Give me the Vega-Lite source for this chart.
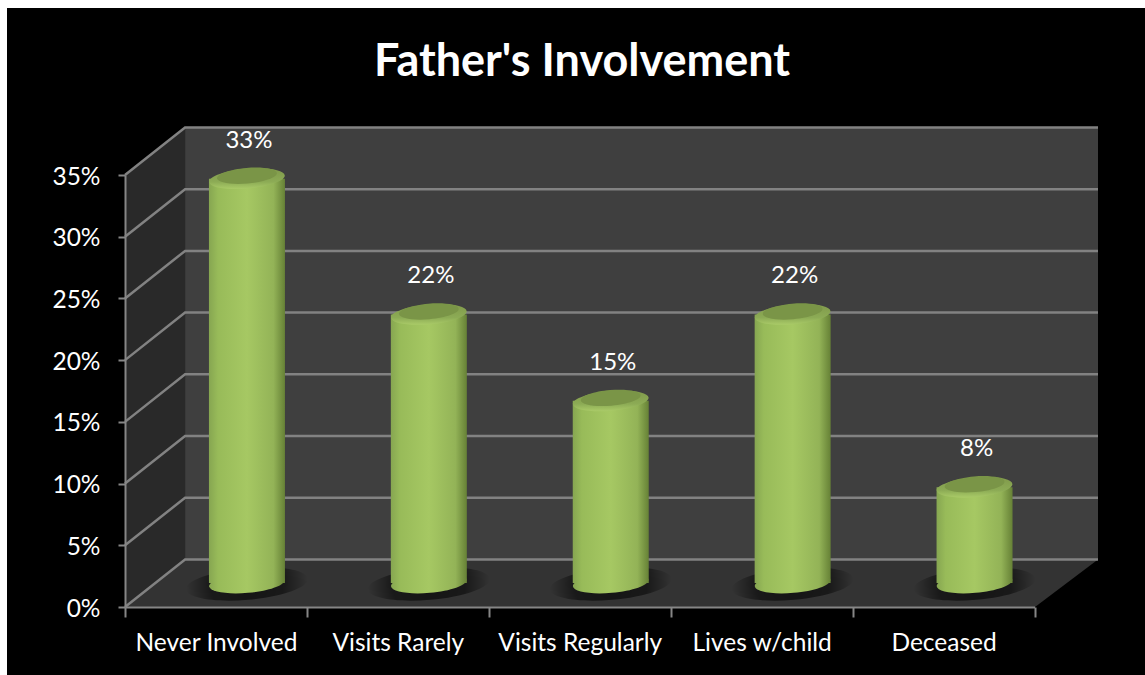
{
"$schema":"https://vega.github.io/schema/vega-lite/v6.json",
"width":1138,"height":667,
"autosize":{"type":"none"},
"padding":{"left":7,"top":8,"right":0,"bottom":0},
"background":"#ffffff",
"view":{"fill":"#000000","stroke":null},
"title":{"text":"Father's Involvement","anchor":"middle","frame":"group","dx":6,"dy":46,"offset":-67,"baseline":"alphabetic","font":"Lato","fontWeight":"bold","fontSize":45,"color":"#ffffff"},
"datasets":{
"categories":[
{"category":"Never Involved","value":0.33},
{"category":"Visits Rarely","value":0.22},
{"category":"Visits Regularly","value":0.15},
{"category":"Lives w/child","value":0.22},
{"category":"Deceased","value":0.08}],
"surfaces":[
{"surface":"back","u":0.33,"low":0.0385,"high":0.3885},
{"surface":"back","u":5.346,"low":0.0385,"high":0.3885},
{"surface":"side","u":0,"low":0,"high":0.35},
{"surface":"side","u":0.33,"low":0.0385,"high":0.3885},
{"surface":"floor","u":0,"low":0,"high":0},
{"surface":"floor","u":0.33,"low":0,"high":0.0385},
{"surface":"floor","u":5,"low":0,"high":0.0385},
{"surface":"floor","u":5.346,"low":0.0385,"high":0.0385}],
"gridlines":[
{"level":"0%","u":0,"share":0},{"level":"0%","u":0.33,"share":0.0385},{"level":"0%","u":5.346,"share":0.0385},
{"level":"5%","u":0,"share":0.05},{"level":"5%","u":0.33,"share":0.0885},{"level":"5%","u":5.346,"share":0.0885},
{"level":"10%","u":0,"share":0.10},{"level":"10%","u":0.33,"share":0.1385},{"level":"10%","u":5.346,"share":0.1385},
{"level":"15%","u":0,"share":0.15},{"level":"15%","u":0.33,"share":0.1885},{"level":"15%","u":5.346,"share":0.1885},
{"level":"20%","u":0,"share":0.20},{"level":"20%","u":0.33,"share":0.2385},{"level":"20%","u":5.346,"share":0.2385},
{"level":"25%","u":0,"share":0.25},{"level":"25%","u":0.33,"share":0.2885},{"level":"25%","u":5.346,"share":0.2885},
{"level":"30%","u":0,"share":0.30},{"level":"30%","u":0.33,"share":0.3385},{"level":"30%","u":5.346,"share":0.3385},
{"level":"35%","u":0,"share":0.35},{"level":"35%","u":0.33,"share":0.3885},{"level":"35%","u":5.346,"share":0.3885}]
},
"resolve":{"scale":{"x":"independent"},"axis":{"x":"independent"}},
"layer":[
{"layer":[
{"data":{"name":"surfaces"},
 "mark":{"type":"area","interpolate":"linear","opacity":1,"clip":false},
 "encoding":{
 "x":{"field":"u","type":"quantitative","scale":{"domain":[0,5.346],"range":[118,1091],"nice":false,"zero":false},"axis":null},
 "y":{"field":"low","type":"quantitative","scale":{"domain":[0,0.35],"range":[599,167],"nice":false},"stack":null,"axis":{"title":null,"offset":-118,"zindex":1,"values":[0,0.05,0.1,0.15,0.2,0.25,0.3,0.35],"format":".0%","labelFont":"Lato","labelFontSize":24.5,"labelColor":"#ffffff","labelPadding":18,"labelOffset":2,"domainColor":"#868686","domainWidth":2,"tickColor":"#868686","tickWidth":2,"tickSize":7,"grid":false}},
 "y2":{"field":"high"},
 "color":{"field":"surface","type":"nominal","legend":null,"scale":{"domain":["back","side","floor"],"range":["#3f3f3f","#292929","#333333"]}}}},
{"data":{"name":"gridlines"},
 "mark":{"type":"line","color":"#828282","strokeWidth":2.5,"interpolate":"linear"},
 "encoding":{
 "x":{"field":"u","type":"quantitative","axis":null},
 "y":{"field":"share","type":"quantitative"},
 "detail":{"field":"level","type":"nominal"}}}
]},
{"data":{"name":"categories"},
 "encoding":{
 "x":{"field":"category","type":"nominal","sort":null,"scale":{"domain":["Never Involved","Visits Rarely","Visits Regularly","Lives w/child","Deceased"],"range":[118,1027.5],"paddingInner":0,"paddingOuter":0},
  "axis":{"title":null,"offset":-68,"zindex":1,"orient":"bottom","labelAngle":0,"labelFont":"Lato","labelFontSize":24.5,"labelColor":"#ffffff","labelPadding":14,"labelLimit":300,"domainColor":"#868686","domainWidth":2,"tickColor":"#868686","tickWidth":2,"tickSize":10,"tickBand":"extent","grid":false}}},
 "layer":[
 {"mark":{"type":"point","filled":true,"opacity":1,"xOffset":31,"yOffset":-23,"size":15000,"shape":"M.996,-.087 C1.008,.056 .573,.211 .023,.259 C-.527,.307 -.983,.230 -.996,.087 C-1.008,-.056 -.573,-.211 -.023,-.259 C.527,-.307 .983,-.230 .996,-.087 Z",
   "fill":{"gradient":"radial","x1":0.5,"y1":0.5,"x2":0.5,"y2":0.5,"r1":0,"r2":0.5,"stops":[{"offset":0,"color":"rgba(0,0,0,0.6)"},{"offset":0.6,"color":"rgba(0,0,0,0.5)"},{"offset":1,"color":"rgba(0,0,0,0)"}]}},
  "encoding":{"y":{"datum":0,"type":"quantitative"}}},
 {"mark":{"type":"point","filled":true,"opacity":1,"xOffset":31,"yOffset":-24,"size":5776,"shape":"M.996,-.087 C1.008,.056 .573,.211 .023,.259 C-.527,.307 -.983,.230 -.996,.087 C-1.008,-.056 -.573,-.211 -.023,-.259 C.527,-.307 .983,-.230 .996,-.087 Z",
   "fill":{"gradient":"linear","x1":0,"y1":0,"x2":1,"y2":0,"stops":[{"offset":0,"color":"#86a651"},{"offset":0.12,"color":"#98bb59"},{"offset":0.5,"color":"#a6c863"},{"offset":0.85,"color":"#93b357"},{"offset":1,"color":"#668136"}]}},
  "encoding":{"y":{"datum":0,"type":"quantitative"}}},
 {"mark":{"type":"bar","width":76,"xOffset":31,"yOffset":-21,"y2Offset":-24,
   "fill":{"gradient":"linear","x1":0,"y1":0,"x2":1,"y2":0,"stops":[{"offset":0,"color":"#86a651"},{"offset":0.12,"color":"#98bb59"},{"offset":0.5,"color":"#a6c863"},{"offset":0.85,"color":"#93b357"},{"offset":1,"color":"#668136"}]}},
  "encoding":{"y":{"field":"value","type":"quantitative","stack":null},"y2":{"datum":0}}},
 {"mark":{"type":"point","filled":true,"opacity":1,"xOffset":31,"yOffset":-21,"size":5776,"shape":"M.996,-.087 C1.008,.056 .573,.211 .023,.259 C-.527,.307 -.983,.230 -.996,.087 C-1.008,-.056 -.573,-.211 -.023,-.259 C.527,-.307 .983,-.230 .996,-.087 Z",
   "fill":{"gradient":"linear","x1":0,"y1":0,"x2":0,"y2":1,"stops":[{"offset":0,"color":"#80994b"},{"offset":0.65,"color":"#8cab55"},{"offset":1,"color":"#aacb68"}]}},
  "encoding":{"y":{"field":"value","type":"quantitative"}}},
 {"mark":{"type":"point","filled":true,"opacity":1,"xOffset":31,"yOffset":-24,"size":3600,"shape":"M.996,-.087 C1.008,.056 .573,.211 .023,.259 C-.527,.307 -.983,.230 -.996,.087 C-1.008,-.056 -.573,-.211 -.023,-.259 C.527,-.307 .983,-.230 .996,-.087 Z",
   "fill":"#7a9547"},
  "encoding":{"y":{"field":"value","type":"quantitative"}}},
 {"mark":{"type":"text","font":"Lato","fontSize":24,"color":"#ffffff","xOffset":33,"yOffset":-59,"baseline":"middle"},
  "encoding":{"y":{"field":"value","type":"quantitative"},"text":{"field":"value","type":"quantitative","format":".0%"}}}
 ]}
]
}
